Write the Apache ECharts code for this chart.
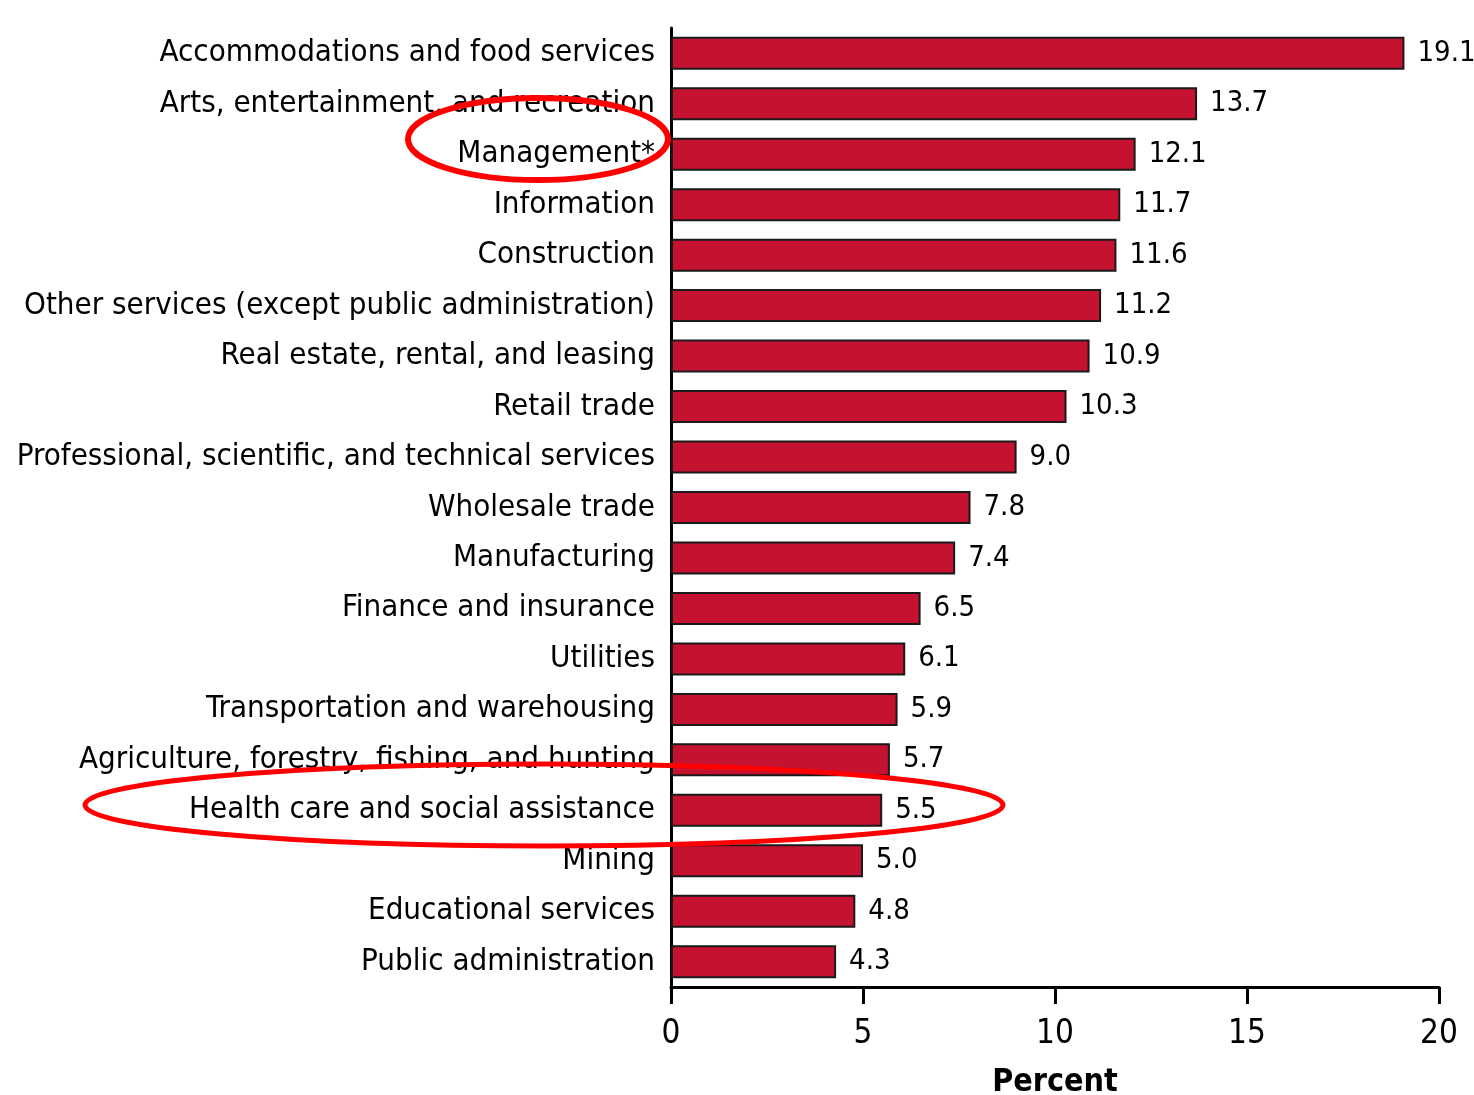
<!DOCTYPE html>
<html>
<head>
<meta charset="utf-8">
<title>Percent by industry</title>
<script src="https://cdn.jsdelivr.net/npm/echarts@6/dist/echarts.min.js"></script>
<style>
  html, body { margin: 0; padding: 0; background: #fff; }
  #chart { width: 1474px; height: 1095px; }
</style>
</head>
<body>
<div id="chart"></div>
<script>
const industries = [
  'Accommodations and food services',
  'Arts, entertainment, and recreation',
  'Management*',
  'Information',
  'Construction',
  'Other services (except public administration)',
  'Real estate, rental, and leasing',
  'Retail trade',
  'Professional, scientific, and technical services',
  'Wholesale trade',
  'Manufacturing',
  'Finance and insurance',
  'Utilities',
  'Transportation and warehousing',
  'Agriculture, forestry, fishing, and hunting',
  'Health care and social assistance',
  'Mining',
  'Educational services',
  'Public administration'
];
const percents = [19.1, 13.7, 12.1, 11.7, 11.6, 11.2, 10.9, 10.3, 9.0, 7.8, 7.4, 6.5, 6.1, 5.9, 5.7, 5.5, 5.0, 4.8, 4.3];
const xTicks = [0, 5, 10, 15, 20];

const font = '"DejaVu Sans Condensed", "Liberation Sans Narrow", sans-serif';
const chart = echarts.init(document.getElementById('chart'));

const option = {
  animation: false,
  textStyle: { fontFamily: font },
  grid: { left: 671, right: 35, top: 28, bottom: 108, containLabel: false, outerBoundsMode: 'none' },
  xAxis: {
    type: 'value',
    min: xTicks[0],
    max: xTicks[xTicks.length - 1],
    interval: 5,
    name: 'Percent',
    nameLocation: 'middle',
    nameGap: 80,
    nameTextStyle: { fontFamily: font, fontSize: 32, fontWeight: 'bold', color: '#000' },
    splitLine: { show: false },
    axisLine: { show: true, lineStyle: { color: '#000', width: 3 } },
    axisTick: { show: true, length: 17, lineStyle: { color: '#000', width: 3 } },
    axisLabel: { fontFamily: font, fontSize: 33, color: '#000', margin: 31 }
  },
  yAxis: {
    type: 'category',
    inverse: true,
    data: industries,
    axisLine: { show: true, lineStyle: { color: '#000', width: 3 } },
    axisTick: { show: false },
    axisLabel: { fontFamily: font, fontSize: 31, color: '#000', margin: 16 }
  },
  series: [{
    type: 'bar',
    data: percents,
    barWidth: 33,
    itemStyle: { color: '#C41230', borderColor: '#1a1a1a', borderWidth: 2 },
    label: {
      show: true,
      position: 'right',
      distance: 13,
      fontFamily: font,
      fontSize: 29,
      color: '#000',
      formatter: p => p.value.toFixed(1)
    }
  }],
  graphic: [
    {
      type: 'ellipse',
      z: 100,
      shape: { cx: 538, cy: 139, rx: 130, ry: 41 },
      style: { fill: 'none', stroke: '#F00', lineWidth: 6 }
    },
    {
      type: 'ellipse',
      z: 100,
      shape: { cx: 544, cy: 805, rx: 459, ry: 41 },
      style: { fill: 'none', stroke: '#F00', lineWidth: 5 }
    }
  ]
};

chart.setOption(option);
</script>
</body>
</html>
